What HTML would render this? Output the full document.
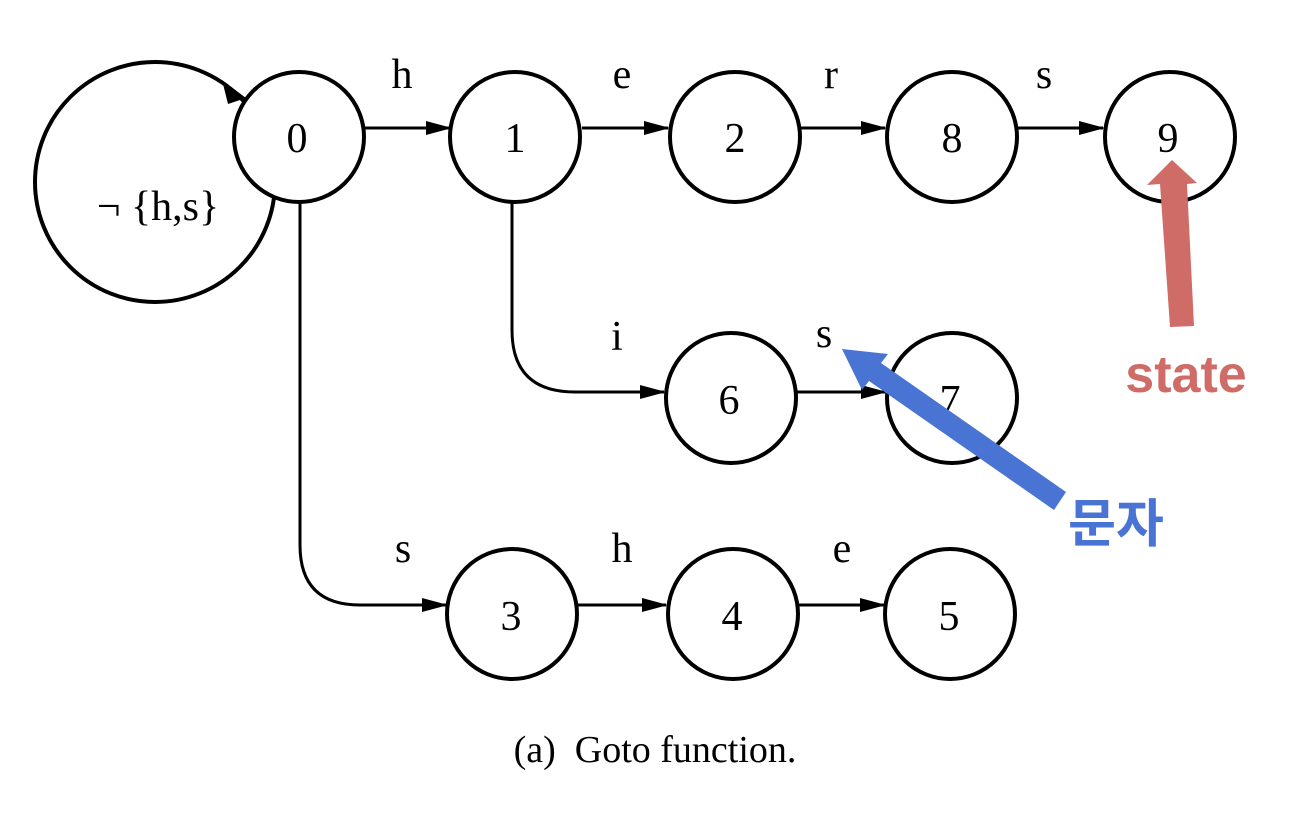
<!DOCTYPE html>
<html><head><meta charset="utf-8"><style>
html,body{margin:0;padding:0;background:#fff;}
svg{display:block;}
</style></head><body>
<svg width="1302" height="818" viewBox="0 0 1302 818" xmlns="http://www.w3.org/2000/svg">
<defs>
<marker id="ah2" markerWidth="26" markerHeight="14" refX="24" refY="7" orient="auto" markerUnits="userSpaceOnUse">
<path d="M0,0 L26,7 L0,14 Z" fill="#000"/>
</marker>
</defs>
<g fill="none" stroke="#000" stroke-width="4">
<circle cx="155" cy="182" r="120"/>
</g>
<g stroke="#000" stroke-width="3" fill="none">
<line x1="365" y1="128" x2="450" y2="128" marker-end="url(#ah2)"/>
<line x1="582" y1="128" x2="668" y2="128" marker-end="url(#ah2)"/>
<line x1="800" y1="128" x2="885" y2="128" marker-end="url(#ah2)"/>
<line x1="1018" y1="128" x2="1103" y2="128" marker-end="url(#ah2)"/>
<line x1="797" y1="392" x2="885" y2="392" marker-end="url(#ah2)"/>
<line x1="578" y1="605" x2="666" y2="605" marker-end="url(#ah2)"/>
<line x1="798" y1="605" x2="884" y2="605" marker-end="url(#ah2)"/>
<path d="M300,200 L300,545 Q300,605 360,605 L446,605" marker-end="url(#ah2)"/>
<path d="M512,200 L512,330 Q512,392 575,392 L664,392" marker-end="url(#ah2)"/>
</g>
<path d="M222,80 L246,98 L228,104 Z" fill="#000"/>
<g fill="#fff" stroke="#000" stroke-width="4">
<circle cx="299" cy="137" r="65"/>
<circle cx="515" cy="137" r="65"/>
<circle cx="735" cy="137" r="65"/>
<circle cx="952" cy="137" r="65"/>
<circle cx="1170" cy="137" r="65"/>
<circle cx="731" cy="398" r="65"/>
<circle cx="952" cy="398" r="65"/>
<circle cx="512" cy="614" r="65"/>
<circle cx="733" cy="614" r="65"/>
<circle cx="950" cy="614" r="65"/>
</g>
<g font-family="Liberation Serif, serif" font-size="42" text-anchor="middle" fill="#000">
<text x="297" y="152">0</text>
<text x="515" y="152">1</text>
<text x="735" y="152">2</text>
<text x="952" y="152">8</text>
<text x="1168" y="152">9</text>
<text x="729" y="414">6</text>
<text x="950" y="414">7</text>
<text x="511" y="630">3</text>
<text x="732" y="630">4</text>
<text x="949" y="630">5</text>
<text x="402" y="88">h</text>
<text x="622" y="88">e</text>
<text x="831" y="88">r</text>
<text x="1044" y="88">s</text>
<text x="617" y="350">i</text>
<text x="824" y="347">s</text>
<text x="403" y="562">s</text>
<text x="622" y="562">h</text>
<text x="842" y="562">e</text>
<text x="158" y="220">¬ {h,s}</text>
<text x="655" y="762" font-size="38" xml:space="preserve">(a)  Goto function.</text>
</g>
<polygon points="1170,327 1194,326 1187,184 1197,183 1172,160 1147,185 1160,184" fill="#d06c68"/>
<polygon points="842,349 888,354 881,363 1066,492 1054,510 869,381 862,390" fill="#4a74d3"/>
<text x="1186" y="392" font-family="Liberation Sans, sans-serif" font-size="52" font-weight="bold" fill="#d06c68" text-anchor="middle">state</text>
<text x="1116" y="542" font-family="Liberation Sans, 'Noto Sans CJK KR', sans-serif" font-size="52" font-weight="bold" fill="#4a74d3" text-anchor="middle">문자</text>
</svg>
</body></html>
